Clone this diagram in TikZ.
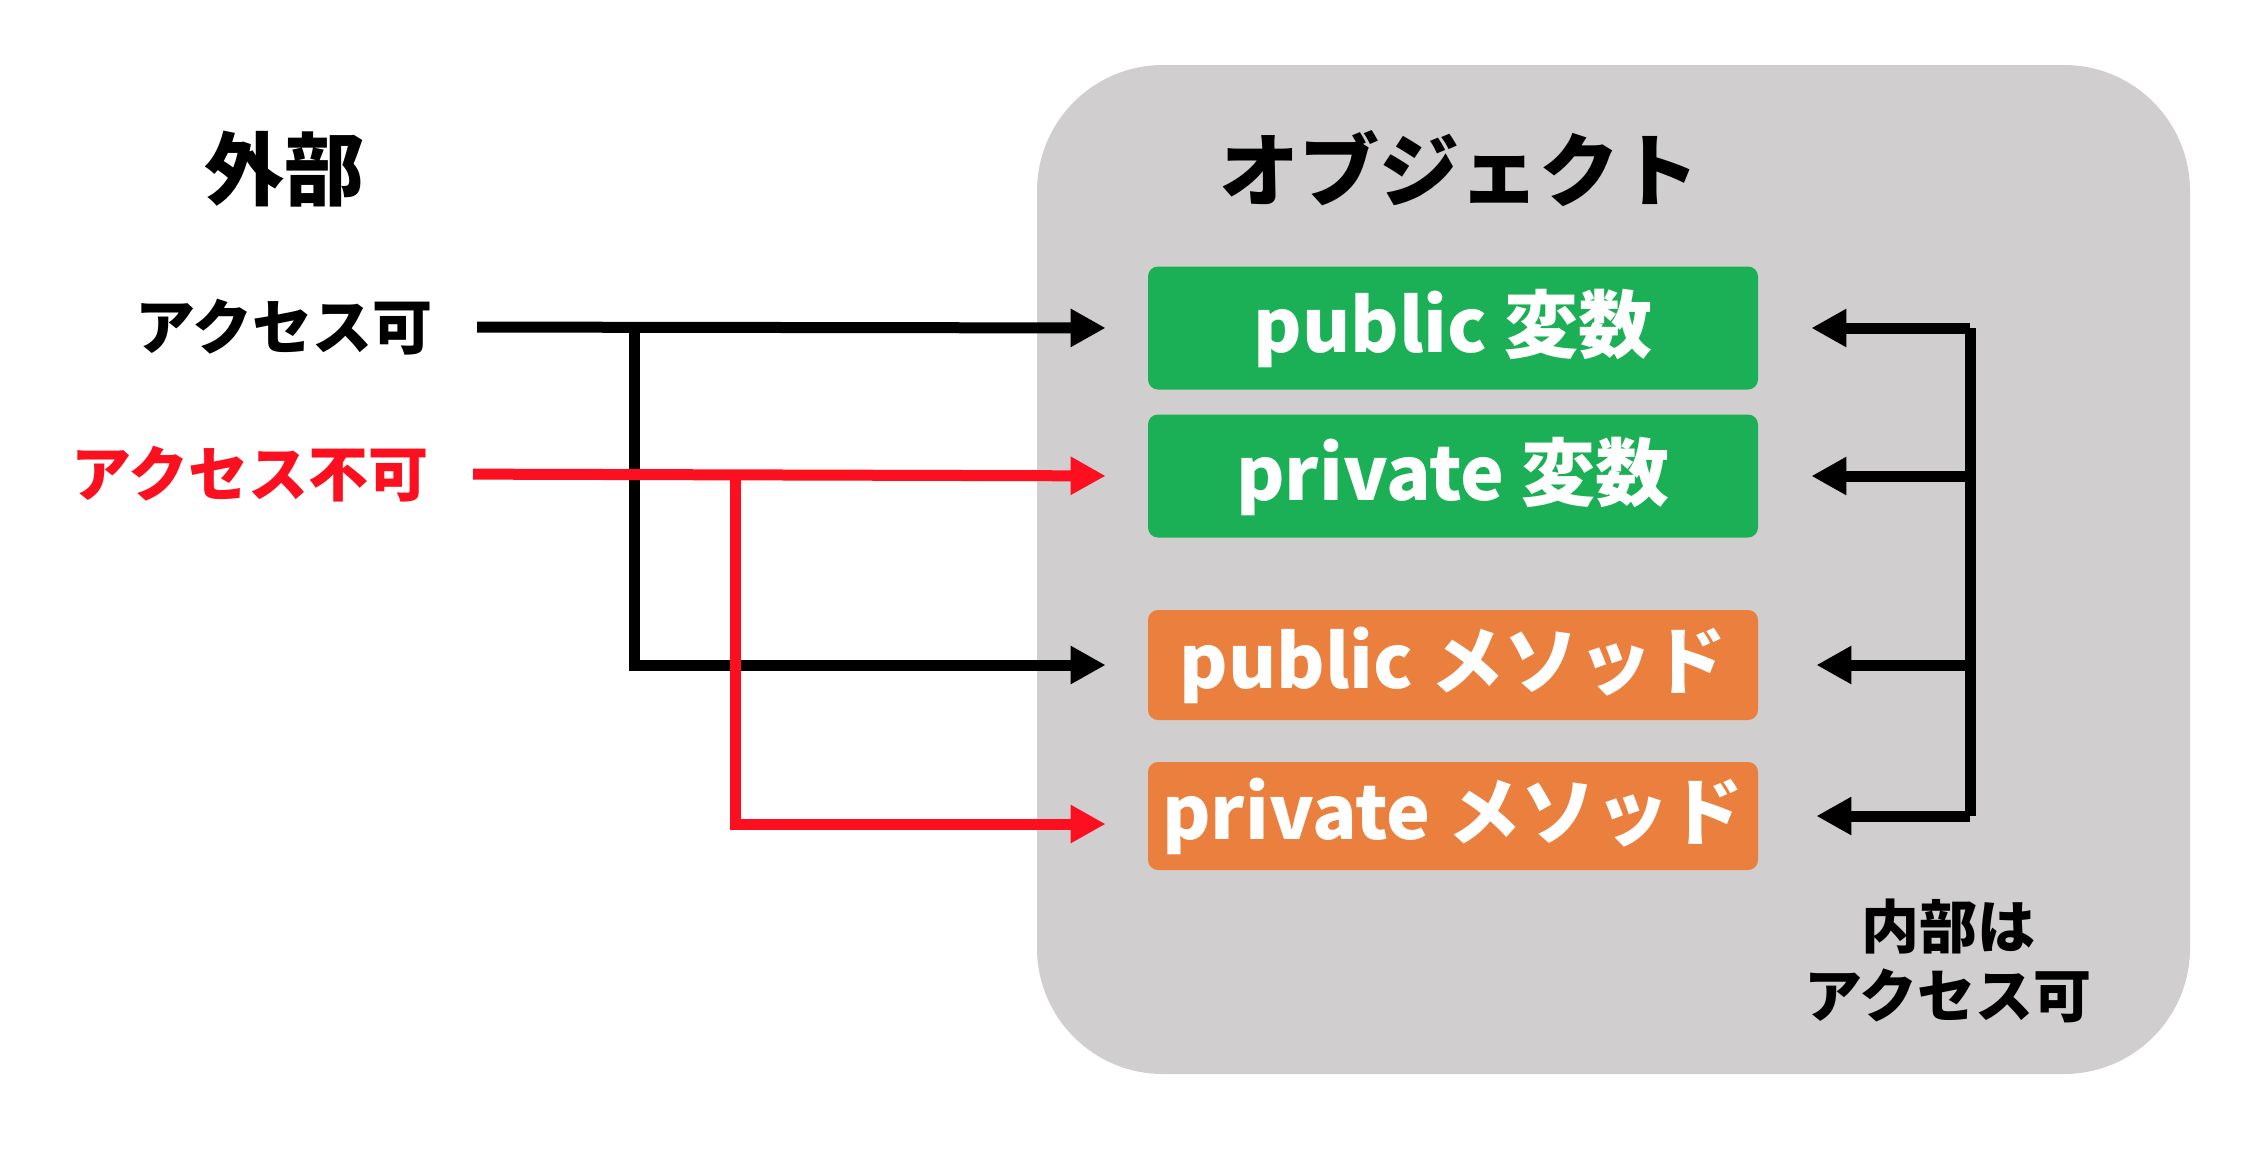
\documentclass[tikz,border=0pt]{standalone}
\usepackage{fontspec}
\setmainfont{Noto Sans CJK JP}
\usetikzlibrary{arrows.meta}
\definecolor{objgray}{RGB}{208,206,207}
\definecolor{vargreen}{RGB}{27,176,86}
\definecolor{methorange}{RGB}{234,127,62}
\definecolor{ngred}{RGB}{252,16,32}

\begin{document}
\begin{tikzpicture}
	[line join=miter,>={Triangle[length=17.5pt,width=18pt]},x=0.5pt,y=-0.5pt,
	 heading/.style={font=\bfseries\fontsize{40pt}{48pt}\selectfont,inner sep=0pt},
	 caption/.style={font=\bfseries\fontsize{30pt}{35pt}\selectfont,inner sep=0pt},
	 member/.style={rounded corners=5pt,minimum width=305pt,text=white,inner sep=0pt,
	   font=\bfseries\fontsize{37pt}{44pt}\selectfont},
	 wire/.style={line width=5.5pt}]
	\useasboundingbox (0,0) rectangle (2252,1148);
	% object area
	\fill[objgray,rounded corners=63pt] (1037,65) rectangle (2190,1074);
	\node[heading] (outside) at (284,169) {外部};
	\node[heading] (object) at (1459,169) {オブジェクト};
	% access labels
	\node[caption,anchor=east] (acc) at (433,327) {アクセス可};
	\node[caption,anchor=east,text=ngred] (noacc) at (429,474) {アクセス不可};
	% members
	\node[member,fill=vargreen,minimum height=61.5pt] (pubvar) at (1453,328) {public 変数};
	\node[member,fill=vargreen,minimum height=61.5pt] (privar) at (1453,476) {private 変数};
	\node[member,fill=methorange,minimum height=55pt] (pubmeth) at (1453,665) {public メソッド};
	\node[member,fill=methorange,minimum height=54pt] (primeth) at (1453,816) {private メソッド};
	% outside access
	\coordinate (accfork) at (634,327);
	\coordinate (noaccfork) at (735,475);
	\draw[wire,->,shorten <=22pt,shorten >=21pt] (acc.east) -- (pubvar.west);
	\draw[wire,->,shorten >=21pt] (accfork) |- (pubmeth.west);
	\draw[wire,ngred,->,shorten <=22pt,shorten >=21pt] (noacc.east) -- (privar.west);
	\draw[wire,ngred,->,shorten >=21pt] (noaccfork) |- ([yshift=-4pt]primeth.west);
	% inside access
	\coordinate (inside) at (1970,0);
	\draw[wire] (pubvar.east -| inside) -- (primeth.east -| inside);
	\foreach \m/\gap in {pubvar/26.5pt,privar/26.5pt,pubmeth/29pt,primeth/29pt}
		\draw[wire,->,shorten >=\gap] (\m.east -| inside) -- (\m.east);
	\node[caption,align=center,font=\bfseries\fontsize{29pt}{34.5pt}\selectfont] (insidenote) at (1948,961) {内部は\\アクセス可};
\end{tikzpicture}
\end{document}
